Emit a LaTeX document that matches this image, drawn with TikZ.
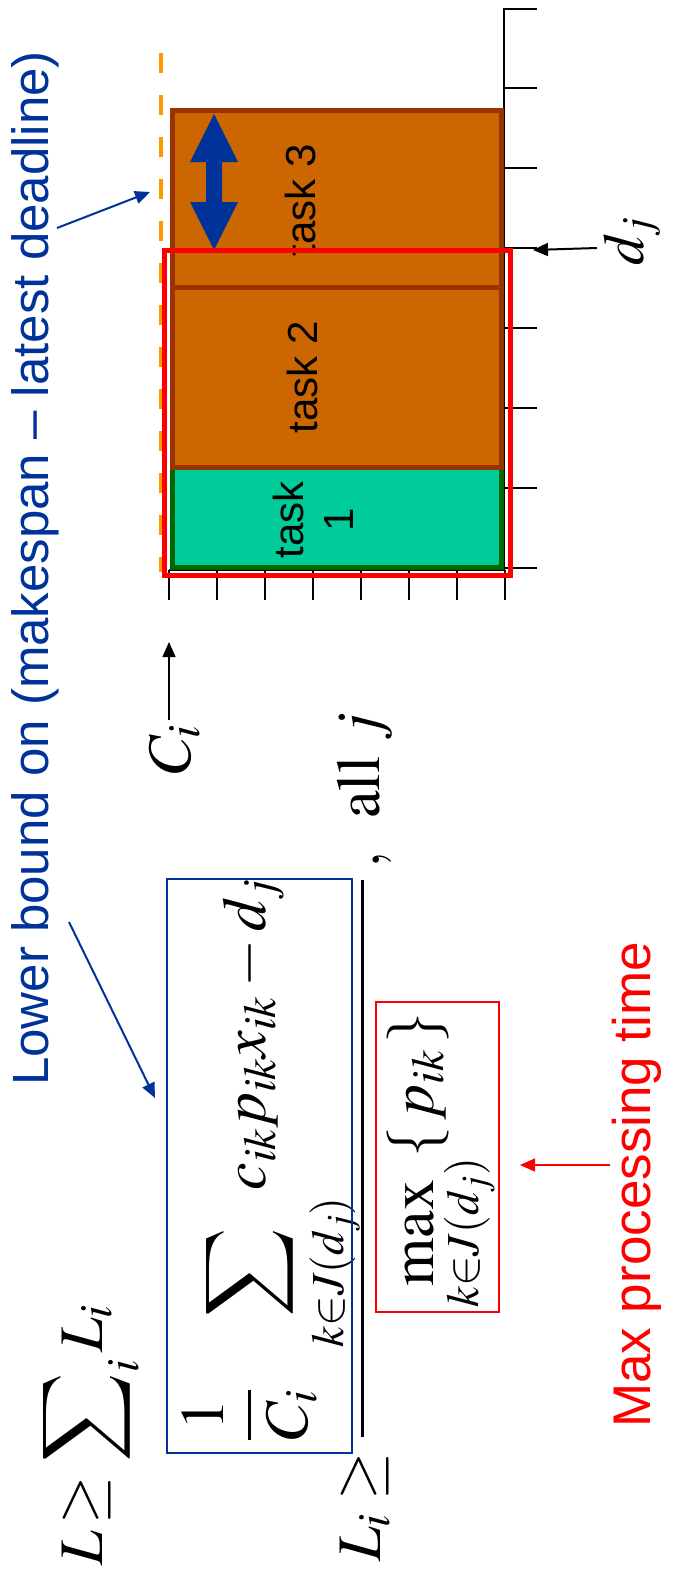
\documentclass[tikz,border=0pt]{standalone}
\usepackage{mathptmx}
\usepackage[no-math]{fontspec}
\setmainfont{Liberation Serif}
\setsansfont{Liberation Sans}
\usetikzlibrary{arrows.meta}
\DeclareFontFamily{OMX}{bigex}{}
\DeclareFontShape{OMX}{bigex}{m}{n}{<->cmex10}{}
\DeclareSymbolFont{cmlarge}{OMX}{bigex}{m}{n}
\DeclareMathSymbol{\bigsum}{\mathop}{cmlarge}{"50}
\definecolor{taskorange}{RGB}{204,102,0}
\definecolor{taskbrown}{RGB}{153,51,0}
\definecolor{taskgreen}{RGB}{0,204,153}
\definecolor{taskdarkgreen}{RGB}{0,102,0}
\definecolor{deadlineorange}{RGB}{255,153,0}
\definecolor{boundblue}{RGB}{0,51,153}
\tikzset{
  task box/.style={draw=taskbrown, fill=taskorange, line width=5pt},
  task label/.style={rotate=90, inner sep=0pt, align=center,
    font=\sffamily\fontsize{42}{50}\selectfont},
  formula/.style={rotate=90, inner sep=0pt, font=\fontsize{62}{70}\selectfont},
  side note/.style={rotate=90, inner sep=0pt, anchor=base west,
    font=\sffamily\fontsize{51}{60}\selectfont},
  note arrow/.style={-{Triangle[length=15pt,width=13pt]}, line width=2pt},
  axis line/.style={line width=1.5pt},
  formula box/.style={line width=1.5pt, inner sep=0pt}
}
\begin{document}
\begin{tikzpicture}[x=1pt, y=-1pt]
    \useasboundingbox (0,0) rectangle (675,1574);
    \draw[axis line] (504,88) -- (504,570) -- (169,570);
    \draw[line width=2.5pt] (537,9) -- (504,9) -- (504,88) -- (537,88);
    \foreach \y in {168,248,...,568}
      \draw[axis line] (504,\y) -- (537,\y);
    \foreach \x in {169,217,...,505}
      \draw[axis line] (\x,570) -- (\x,600);
    \draw[deadlineorange, line width=4pt, dash pattern=on 20pt off 22pt] (161,53) -- (161,572);
    \draw[task box, draw=taskdarkgreen, fill=taskgreen] (172,467) rectangle (501,567);
    \draw[task box] (172,287) rectangle (501,467);
    \draw[task box] (172,110) rectangle (501,287);
    \node[task label, anchor=base] (task3) at (315,200) {task 3};
    \node[task label, anchor=base] (task2) at (317,377) {task 2};
    \node[task label] (task1) at (313,520) {task\\1};
    \fill[boundblue] (214,114) -- (238,162) -- (222,162) -- (222,202) -- (238,202)
      -- (214,250) -- (190,202) -- (206,202) -- (206,162) -- (190,162) -- cycle;
    \draw[red, line width=5pt] (164.5,250) rectangle (510.5,575);
    \node[formula, anchor=base west, font=\fontsize{58}{64}\selectfont] (dj) at (643,266) {$d_j$};
    \coordinate (djtail) at (597,248);
    \coordinate (djmark) at (533,250);
    \draw[note arrow] (djtail) -- (djmark);
    \node[formula, anchor=base west] (ci) at (190,775) {$C_i$};
    \coordinate (citail) at (169,720);
    \coordinate (ciend) at (169,642);
    \draw[note arrow, line width=1.5pt] (citail) -- (ciend);
    \node[formula, anchor=base west] (lsum) at (102,1566)
      {$L\mkern-2mu\geq\displaystyle\bigsum\nolimits_i L_i$};
    \node[formula, anchor=base west] (li) at (380,1562) {$L_i\geq$};
    \node[formula, anchor=base] (numer) at (265,1160)
      {$\displaystyle\frac{1}{C_i}\mkern10mu\bigsum_{k\in J(d_j)} c_{ik}p_{ik}x_{ik}-d_j$};
    \node[formula box, draw=boundblue, minimum width=185pt, minimum height=574pt] (numbox) at (259.5,1166) {};
    \draw[line width=3pt] (362,880) -- (362,1437);
    \node[formula, anchor=base] (denom) at (433,1160)
      {$\displaystyle\max_{k\in J(d_j)}\{\,p_{ik}\,\}$};
    \node[formula box, draw=red, minimum width=123pt, minimum height=310pt] (denbox) at (437.5,1157) {};
    \node[formula, anchor=base west] (allj) at (379,869) {$,\hspace{26pt}\mathrm{all}\ j$};
    \node[side note, text=boundblue] (lowerbound) at (48,1086) {Lower bound on (makespan – latest deadline)};
    \coordinate (lbtail1) at (57,228);
    \coordinate (lbtip1) at (150,192);
    \coordinate (lbtail2) at (69,922);
    \coordinate (lbtip2) at (155,1098);
    \draw[note arrow, boundblue] (lbtail1) -- (lbtip1);
    \draw[note arrow, boundblue] (lbtail2) -- (lbtip2);
    \node[side note, text=red, font=\sffamily\fontsize{53}{60}\selectfont] (maxnote) at (650,1428) {Max processing time};
    \coordinate (maxtail) at (610,1165);
    \coordinate (maxtip) at (520,1165);
    \draw[note arrow, red, line width=1.5pt] (maxtail) -- (maxtip);
\end{tikzpicture}
\end{document}
